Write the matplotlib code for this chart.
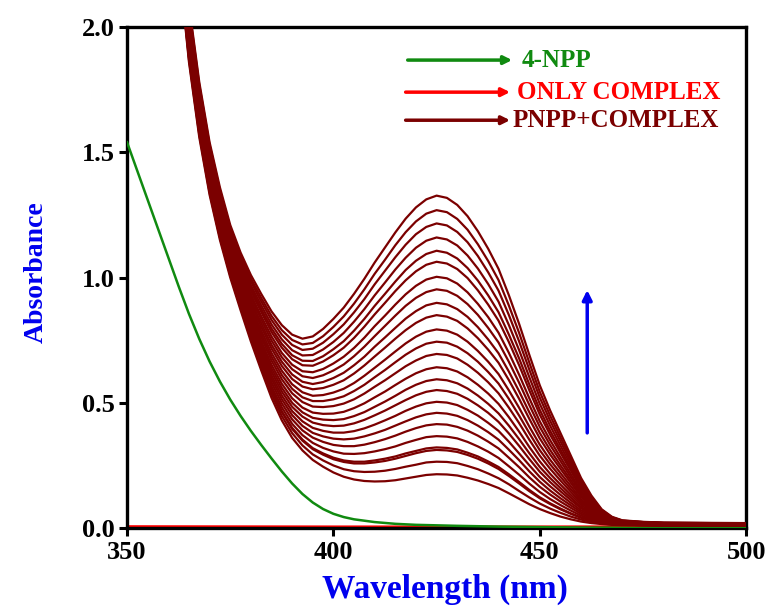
import matplotlib
matplotlib.use('Agg')
import matplotlib.pyplot as plt
from matplotlib.ticker import MultipleLocator, FormatStrFormatter

plt.rcParams['font.family'] = ['Liberation Serif', 'DejaVu Serif']
plt.rcParams['font.weight'] = 'bold'

# 4-NPP alone
wl_npp = [350, 352.5, 355, 357.5, 360, 362.5, 365, 367.5, 370, 372.5, 375, 377.5,
          380, 382.5, 385, 387.5, 390, 392.5, 395, 397.5, 400, 402.5, 405, 410,
          415, 420, 430, 440, 450, 460, 470, 500]
abs_npp = [1.54, 1.425, 1.31, 1.195, 1.08, 0.965, 0.855, 0.755, 0.665, 0.585, 0.513, 0.448,
           0.388, 0.332, 0.278, 0.226, 0.178, 0.136, 0.102, 0.076, 0.057, 0.044, 0.035, 0.024,
           0.017, 0.013, 0.009, 0.006, 0.004, 0.002, 0.001, 0.0]

# complex alone
wl_complex = [350, 400, 450, 500]
abs_complex = [0.005, 0.004, 0.004, 0.005]

# PNPP + complex, successive scans (first row = last scan, highest band)
wl_pnpp = [362, 365, 367.5, 370, 372.5, 375, 377.5, 380, 382.5, 385, 387.5, 390,
           392.5, 395, 397.5, 400, 402.5, 405, 407.5, 410, 412.5, 415, 417.5, 420,
           422.5, 425, 427.5, 430, 432.5, 435, 437.5, 440, 442.5, 445, 447.5, 450,
           452.5, 455, 457.5, 460, 462.5, 465, 467.5, 470, 475, 480, 490, 500]
abs_pnpp = [
    [2.45, 2.09, 1.78, 1.54, 1.36, 1.21, 1.10, 1.01, 0.935, 0.865, 0.81, 0.772,
     0.756, 0.765, 0.795, 0.835, 0.88, 0.935, 0.995, 1.06, 1.12, 1.18, 1.235, 1.28,
     1.312, 1.327, 1.318, 1.29, 1.245, 1.185, 1.115, 1.035, 0.93, 0.815, 0.69, 0.57,
     0.47, 0.38, 0.29, 0.20, 0.13, 0.075, 0.045, 0.031, 0.025, 0.022, 0.021, 0.020],
    [2.445, 2.078, 1.769, 1.529, 1.349, 1.199, 1.088, 0.996, 0.919, 0.847, 0.790, 0.751,
     0.733, 0.739, 0.766, 0.803, 0.845, 0.896, 0.953, 1.015, 1.071, 1.129, 1.181, 1.224,
     1.255, 1.269, 1.261, 1.234, 1.191, 1.133, 1.066, 0.990, 0.889, 0.779, 0.659, 0.544,
     0.449, 0.363, 0.277, 0.191, 0.124, 0.072, 0.043, 0.030, 0.024, 0.021, 0.020, 0.019],
    [2.44, 2.067, 1.758, 1.519, 1.339, 1.189, 1.077, 0.984, 0.905, 0.831, 0.772, 0.731,
     0.711, 0.716, 0.740, 0.774, 0.813, 0.861, 0.914, 0.973, 1.027, 1.081, 1.131, 1.173,
     1.202, 1.216, 1.208, 1.182, 1.141, 1.086, 1.021, 0.948, 0.851, 0.745, 0.631, 0.521,
     0.429, 0.347, 0.265, 0.183, 0.119, 0.069, 0.042, 0.029, 0.024, 0.021, 0.020, 0.019],
    [2.435, 2.056, 1.747, 1.509, 1.329, 1.179, 1.066, 0.970, 0.889, 0.813, 0.753, 0.710,
     0.689, 0.691, 0.713, 0.743, 0.779, 0.824, 0.874, 0.929, 0.980, 1.032, 1.079, 1.119,
     1.147, 1.160, 1.152, 1.128, 1.088, 1.036, 0.974, 0.904, 0.811, 0.710, 0.601, 0.496,
     0.409, 0.330, 0.252, 0.174, 0.114, 0.066, 0.040, 0.028, 0.023, 0.020, 0.019, 0.019],
    [2.43, 2.044, 1.736, 1.498, 1.318, 1.168, 1.054, 0.958, 0.875, 0.797, 0.735, 0.690,
     0.668, 0.667, 0.686, 0.714, 0.746, 0.788, 0.835, 0.887, 0.935, 0.984, 1.030, 1.067,
     1.094, 1.107, 1.099, 1.076, 1.038, 0.988, 0.929, 0.862, 0.773, 0.677, 0.572, 0.472,
     0.389, 0.314, 0.240, 0.166, 0.108, 0.063, 0.039, 0.027, 0.022, 0.020, 0.019, 0.018],
    [2.426, 2.035, 1.728, 1.490, 1.310, 1.160, 1.045, 0.947, 0.863, 0.783, 0.720, 0.674,
     0.650, 0.648, 0.665, 0.690, 0.720, 0.759, 0.804, 0.853, 0.899, 0.946, 0.989, 1.025,
     1.051, 1.063, 1.056, 1.034, 0.998, 0.949, 0.892, 0.828, 0.743, 0.650, 0.549, 0.453,
     0.373, 0.301, 0.230, 0.159, 0.104, 0.061, 0.037, 0.026, 0.022, 0.019, 0.018, 0.018],
    [2.421, 2.023, 1.716, 1.479, 1.299, 1.149, 1.033, 0.933, 0.846, 0.765, 0.699, 0.652,
     0.626, 0.622, 0.635, 0.657, 0.684, 0.719, 0.760, 0.806, 0.848, 0.892, 0.933, 0.967,
     0.992, 1.003, 0.997, 0.976, 0.941, 0.895, 0.842, 0.780, 0.700, 0.612, 0.517, 0.426,
     0.351, 0.283, 0.216, 0.149, 0.098, 0.058, 0.036, 0.025, 0.021, 0.019, 0.018, 0.017],
    [2.416, 2.013, 1.706, 1.469, 1.289, 1.139, 1.023, 0.921, 0.833, 0.749, 0.682, 0.634,
     0.606, 0.599, 0.610, 0.629, 0.653, 0.686, 0.724, 0.766, 0.807, 0.848, 0.887, 0.919,
     0.942, 0.953, 0.947, 0.927, 0.894, 0.851, 0.799, 0.741, 0.664, 0.580, 0.490, 0.404,
     0.332, 0.268, 0.204, 0.142, 0.093, 0.055, 0.034, 0.025, 0.020, 0.018, 0.017, 0.017],
    [2.412, 2.001, 1.695, 1.459, 1.279, 1.129, 1.011, 0.908, 0.818, 0.732, 0.664, 0.613,
     0.584, 0.575, 0.583, 0.599, 0.620, 0.650, 0.684, 0.724, 0.761, 0.799, 0.836, 0.866,
     0.889, 0.899, 0.893, 0.874, 0.843, 0.802, 0.753, 0.698, 0.625, 0.546, 0.461, 0.380,
     0.312, 0.251, 0.192, 0.133, 0.088, 0.052, 0.033, 0.024, 0.020, 0.017, 0.017, 0.016],
    [2.407, 1.991, 1.686, 1.450, 1.270, 1.120, 1.001, 0.896, 0.804, 0.717, 0.647, 0.595,
     0.565, 0.554, 0.559, 0.572, 0.590, 0.617, 0.649, 0.685, 0.720, 0.756, 0.790, 0.819,
     0.840, 0.850, 0.844, 0.827, 0.797, 0.758, 0.712, 0.660, 0.591, 0.516, 0.435, 0.358,
     0.294, 0.237, 0.181, 0.125, 0.083, 0.050, 0.031, 0.023, 0.019, 0.017, 0.016, 0.016],
    [2.402, 1.980, 1.674, 1.439, 1.259, 1.109, 0.990, 0.883, 0.789, 0.699, 0.628, 0.574,
     0.542, 0.528, 0.531, 0.541, 0.556, 0.579, 0.608, 0.640, 0.672, 0.705, 0.737, 0.764,
     0.784, 0.793, 0.788, 0.772, 0.744, 0.707, 0.664, 0.615, 0.550, 0.480, 0.404, 0.333,
     0.273, 0.220, 0.168, 0.116, 0.077, 0.047, 0.030, 0.022, 0.018, 0.016, 0.016, 0.015],
    [2.398, 1.969, 1.665, 1.430, 1.250, 1.100, 0.979, 0.871, 0.775, 0.684, 0.611, 0.556,
     0.522, 0.507, 0.507, 0.514, 0.526, 0.547, 0.572, 0.602, 0.631, 0.662, 0.692, 0.717,
     0.736, 0.744, 0.740, 0.724, 0.698, 0.664, 0.623, 0.577, 0.516, 0.449, 0.378, 0.311,
     0.255, 0.205, 0.156, 0.109, 0.072, 0.044, 0.028, 0.021, 0.018, 0.016, 0.015, 0.015],
    [2.393, 1.959, 1.655, 1.421, 1.241, 1.091, 0.969, 0.859, 0.762, 0.669, 0.594, 0.538,
     0.503, 0.485, 0.483, 0.487, 0.497, 0.514, 0.537, 0.564, 0.590, 0.618, 0.646, 0.669,
     0.687, 0.695, 0.691, 0.677, 0.652, 0.620, 0.582, 0.538, 0.481, 0.419, 0.352, 0.289,
     0.237, 0.190, 0.145, 0.101, 0.068, 0.041, 0.027, 0.020, 0.017, 0.015, 0.015, 0.014],
    [2.388, 1.948, 1.644, 1.411, 1.231, 1.081, 0.958, 0.847, 0.747, 0.652, 0.576, 0.518,
     0.481, 0.461, 0.456, 0.457, 0.464, 0.479, 0.498, 0.522, 0.545, 0.571, 0.596, 0.618,
     0.634, 0.642, 0.638, 0.625, 0.602, 0.572, 0.537, 0.496, 0.443, 0.385, 0.323, 0.266,
     0.217, 0.174, 0.133, 0.093, 0.062, 0.039, 0.025, 0.019, 0.016, 0.015, 0.014, 0.014],
    [2.384, 1.938, 1.635, 1.402, 1.222, 1.072, 0.948, 0.835, 0.734, 0.638, 0.560, 0.500,
     0.462, 0.440, 0.433, 0.431, 0.435, 0.447, 0.463, 0.484, 0.505, 0.528, 0.552, 0.572,
     0.587, 0.594, 0.590, 0.578, 0.557, 0.529, 0.496, 0.458, 0.409, 0.355, 0.298, 0.244,
     0.200, 0.160, 0.122, 0.085, 0.058, 0.036, 0.024, 0.018, 0.016, 0.014, 0.014, 0.013],
    [2.38, 1.929, 1.626, 1.393, 1.213, 1.063, 0.939, 0.825, 0.722, 0.624, 0.545, 0.484,
     0.445, 0.421, 0.411, 0.407, 0.409, 0.418, 0.432, 0.450, 0.469, 0.490, 0.511, 0.530,
     0.544, 0.551, 0.547, 0.536, 0.516, 0.490, 0.460, 0.424, 0.378, 0.328, 0.275, 0.225,
     0.184, 0.147, 0.112, 0.079, 0.053, 0.034, 0.023, 0.018, 0.015, 0.014, 0.013, 0.013],
    [2.376, 1.920, 1.617, 1.385, 1.205, 1.055, 0.930, 0.814, 0.709, 0.610, 0.529, 0.467,
     0.426, 0.400, 0.388, 0.381, 0.381, 0.387, 0.398, 0.413, 0.430, 0.448, 0.468, 0.485,
     0.498, 0.504, 0.501, 0.491, 0.472, 0.449, 0.420, 0.388, 0.345, 0.298, 0.250, 0.204,
     0.167, 0.133, 0.101, 0.071, 0.049, 0.031, 0.021, 0.017, 0.015, 0.013, 0.013, 0.013],
    [2.372, 1.911, 1.608, 1.376, 1.196, 1.046, 0.921, 0.803, 0.697, 0.596, 0.514, 0.451,
     0.408, 0.380, 0.366, 0.357, 0.354, 0.357, 0.366, 0.378, 0.392, 0.409, 0.426, 0.442,
     0.454, 0.460, 0.457, 0.448, 0.431, 0.409, 0.383, 0.353, 0.313, 0.271, 0.226, 0.185,
     0.150, 0.119, 0.091, 0.064, 0.044, 0.029, 0.020, 0.016, 0.014, 0.013, 0.012, 0.012],
    [2.368, 1.901, 1.600, 1.368, 1.188, 1.038, 0.911, 0.793, 0.685, 0.582, 0.498, 0.434,
     0.390, 0.361, 0.344, 0.332, 0.327, 0.327, 0.333, 0.343, 0.355, 0.369, 0.385, 0.399,
     0.410, 0.415, 0.413, 0.404, 0.389, 0.369, 0.345, 0.318, 0.281, 0.243, 0.202, 0.165,
     0.134, 0.106, 0.081, 0.057, 0.040, 0.027, 0.019, 0.015, 0.014, 0.012, 0.012, 0.012],
    [2.364, 1.892, 1.590, 1.359, 1.179, 1.029, 0.902, 0.781, 0.672, 0.567, 0.482, 0.416,
     0.371, 0.340, 0.320, 0.306, 0.297, 0.296, 0.299, 0.306, 0.315, 0.326, 0.340, 0.352,
     0.363, 0.367, 0.365, 0.358, 0.344, 0.326, 0.305, 0.280, 0.247, 0.213, 0.177, 0.144,
     0.116, 0.092, 0.070, 0.050, 0.035, 0.024, 0.017, 0.015, 0.013, 0.012, 0.012, 0.011],
    [2.36, 1.882, 1.581, 1.350, 1.170, 1.020, 0.892, 0.770, 0.659, 0.553, 0.466, 0.400,
     0.353, 0.319, 0.298, 0.281, 0.270, 0.265, 0.265, 0.270, 0.277, 0.286, 0.298, 0.308,
     0.318, 0.322, 0.320, 0.314, 0.301, 0.286, 0.266, 0.244, 0.215, 0.184, 0.152, 0.123,
     0.099, 0.078, 0.059, 0.043, 0.031, 0.022, 0.016, 0.014, 0.012, 0.011, 0.011, 0.011],
    [2.359, 1.880, 1.579, 1.348, 1.168, 1.018, 0.890, 0.768, 0.657, 0.550, 0.463, 0.396,
     0.349, 0.315, 0.293, 0.275, 0.264, 0.258, 0.258, 0.262, 0.268, 0.277, 0.288, 0.299,
     0.308, 0.312, 0.310, 0.304, 0.292, 0.277, 0.258, 0.236, 0.208, 0.178, 0.147, 0.119,
     0.096, 0.075, 0.057, 0.041, 0.030, 0.021, 0.016, 0.014, 0.012, 0.011, 0.011, 0.011],
    [2.355, 1.870, 1.570, 1.339, 1.159, 1.009, 0.880, 0.757, 0.644, 0.536, 0.447, 0.379,
     0.330, 0.294, 0.270, 0.250, 0.235, 0.227, 0.224, 0.225, 0.229, 0.236, 0.245, 0.253,
     0.262, 0.265, 0.264, 0.259, 0.248, 0.235, 0.218, 0.199, 0.175, 0.148, 0.122, 0.098,
     0.078, 0.061, 0.046, 0.034, 0.025, 0.019, 0.014, 0.013, 0.012, 0.011, 0.010, 0.010],
    [2.35, 1.86, 1.56, 1.33, 1.15, 1.00, 0.87, 0.745, 0.63, 0.52, 0.43, 0.36,
     0.31, 0.272, 0.245, 0.222, 0.205, 0.194, 0.188, 0.186, 0.187, 0.191, 0.198, 0.205,
     0.212, 0.215, 0.214, 0.21, 0.201, 0.19, 0.176, 0.16, 0.139, 0.117, 0.095, 0.076,
     0.06, 0.046, 0.035, 0.026, 0.02, 0.016, 0.013, 0.012, 0.011, 0.010, 0.010, 0.010],
]

GREEN = '#108a10'
RED = '#ff0000'
MAROON = '#7b0000'
BLUE = '#0000ee'

fig = plt.figure(figsize=(7.7, 6.07), dpi=100)
ax = fig.add_axes([0.165, 0.130, 0.804, 0.8255])

ax.plot(wl_complex, abs_complex, color=RED, lw=2.4, zorder=2)
ax.plot(wl_npp, abs_npp, color=GREEN, lw=1.8, zorder=3)
for spectrum in abs_pnpp:
    ax.plot(wl_pnpp, spectrum, color=MAROON, lw=1.6, zorder=4)

ax.set_xlim(350, 500)
ax.set_ylim(0, 2.0)
ax.xaxis.set_major_locator(MultipleLocator(50))
ax.yaxis.set_major_locator(MultipleLocator(0.5))
ax.yaxis.set_major_formatter(FormatStrFormatter('%.1f'))
ax.tick_params(direction='out', length=6, width=2.2, labelsize=19, pad=3)
for spine in ax.spines.values():
    spine.set_linewidth(2.4)

# legend drawn as arrows + coloured text
legend_rows = [('4-NPP', GREEN, 1.868, 418.0, 443.3, 445.5),
               ('ONLY COMPLEX', RED, 1.740, 417.5, 442.8, 444.5),
               ('PNPP+COMPLEX', MAROON, 1.628, 417.5, 442.8, 443.3)]
for label, color, y, x0, x1, xt in legend_rows:
    ax.annotate('', xy=(x1, y), xytext=(x0, y),
                arrowprops=dict(arrowstyle='-|>', color=color, lw=2.5,
                                mutation_scale=12, shrinkA=0, shrinkB=0))
    ax.text(xt, y, label, color=color, fontsize=18, fontweight='bold',
            ha='left', va='center')

# blue arrow showing the growth of the 425 nm band
ax.annotate('', xy=(461.5, 0.95), xytext=(461.5, 0.38),
            arrowprops=dict(arrowstyle='-|>', color=BLUE, lw=2.5,
                            mutation_scale=14, shrinkA=0, shrinkB=0))

fig.text(0.578, 0.016, 'Wavelength (nm)', color=BLUE, fontsize=24,
         fontweight='bold', ha='center', va='baseline')
fig.text(0.047, 0.552, 'Absorbance', color=BLUE, fontsize=20,
         fontweight='bold', rotation=90, ha='center', va='center')

fig.savefig('out.png', dpi=100)
